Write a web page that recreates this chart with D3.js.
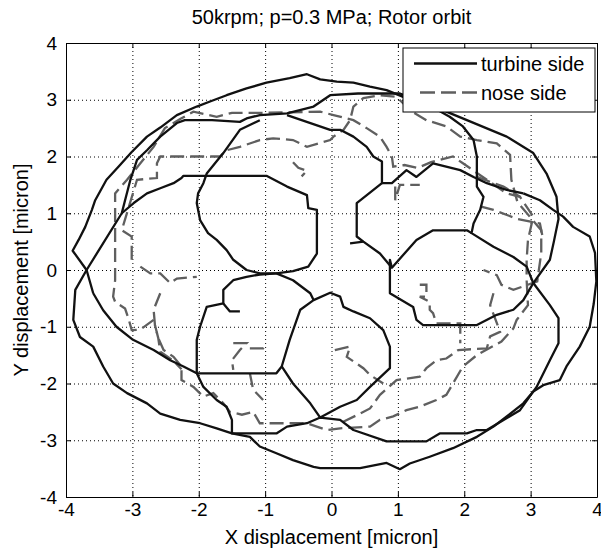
<!DOCTYPE html>
<html>
<head>
<meta charset="utf-8">
<script src="https://cdn.jsdelivr.net/npm/d3@7"></script>
<style>
  body { margin: 0; background: #fff; }
  text { font-family: "Liberation Sans", Arial, sans-serif; fill: #000; }
</style>
</head>
<body>
<script>
const width = 601, height = 552;
const margin = {top: 43, right: 4, bottom: 55, left: 66};

const xTicks = [-4, -3, -2, -1, 0, 1, 2, 3, 4];
const yTicks = [-4, -3, -2, -1, 0, 1, 2, 3, 4];
const seriesNames = ['turbine side', 'nose side'];

const turbineSide = [
  [[-3.59,-0.41],[-3.69,0],[-3.90,0.34],[-3.81,0.53],[-3.71,0.76],[-3.61,1.06],[-3.56,1.23],[-3.39,1.59],[-3.21,1.82],[-3.01,2.08],[-2.78,2.35],[-2.58,2.51],[-2.33,2.73],[-2.03,2.88],[-1.83,2.97],[-1.58,3.08],[-1.28,3.20],[-0.98,3.30],[-0.63,3.38],[-0.37,3.45],[-0.17,3.36],[0.08,3.32],[0.33,3.30],[0.58,3.23],[0.83,3.17],[1.08,3.05],[1.40,2.92],[1.73,2.79],[2.04,2.64],[2.64,2.35],[3.04,2.06],[3.24,1.70],[3.39,1.29],[3.42,0.90],[3.35,0.50],[3.29,0.18],[3.04,-0.23],[3.29,-0.62],[3.42,-0.85],[3.42,-1.29],[3.29,-1.59],[3.09,-2.06],[2.84,-2.47],[2.34,-2.82],[2.19,-2.82],[2.04,-2.88],[1.63,-2.88],[1.43,-3.02],[0.83,-3.02],[0.33,-2.82],[0.13,-2.64],[-0.17,-2.60],[-0.37,-2.70],[-0.67,-2.76],[-0.83,-2.88],[-1.50,-2.88],[-1.50,-2.64],[-1.58,-2.41],[-1.73,-2.29],[-1.93,-2.06],[-2.03,-1.82],[-2.23,-1.70],[-2.43,-1.59],[-2.68,-1.41],[-2.99,-1.23],[-3.24,-1.00],[-3.44,-0.71],[-3.59,-0.41]],
  [[2.89,1.35],[3.14,1.23],[3.34,1.06],[3.49,0.94],[3.64,0.76],[3.89,0.59],[3.97,0.30],[3.99,-0.20],[3.95,-0.60],[3.89,-1.00],[3.74,-1.35],[3.54,-1.70],[3.44,-1.94],[3.19,-2.03],[3.04,-2.14],[2.89,-2.35],[2.64,-2.58],[2.44,-2.76],[2.19,-2.94],[1.83,-3.14],[1.48,-3.29],[1.18,-3.41],[1.03,-3.51],[0.83,-3.40],[0.43,-3.49],[-0.17,-3.49],[-0.27,-3.47],[-0.58,-3.35],[-0.83,-3.23],[-1.08,-3.11],[-1.23,-2.94],[-1.50,-2.88],[-1.73,-2.79],[-1.98,-2.70],[-2.28,-2.64],[-2.58,-2.53],[-2.78,-2.35],[-3.08,-2.17],[-3.29,-2.00],[-3.44,-1.70],[-3.59,-1.35],[-3.79,-1.18],[-3.89,-0.88],[-3.86,-0.35],[-3.69,0],[-3.16,1.00],[-3.11,1.23],[-3.03,1.59],[-2.93,1.94],[-2.78,2.11],[-2.58,2.35],[-2.33,2.59],[-2.21,2.64],[-1.80,2.64],[-1.38,2.61],[-1.28,2.67],[-1.08,2.73],[-0.67,2.76],[-0.27,2.88],[-0.02,3.08],[0.40,3.11],[1.03,3.11],[1.40,2.95],[1.78,2.70],[1.98,2.53],[2.14,2.29],[2.19,2.00],[2.19,1.47],[2.29,1.29],[2.24,1.06],[2.14,0.82],[2.11,0.65],[2.44,0.41],[2.74,0.23],[2.94,0.06],[3.04,-0.23],[2.89,-0.53],[2.74,-0.70],[2.49,-0.79],[2.19,-0.97],[1.38,-0.97],[1.28,-0.88],[1.23,-0.65],[0.88,-0.41],[0.88,0.18],[0.91,0.04]],
  [[-3.16,1.00],[-2.98,1.18],[-2.78,1.35],[-2.58,1.44],[-2.38,1.53],[-2.26,1.62],[-2.23,1.66],[-1.88,1.66],[-0.98,1.66],[-0.67,1.47],[-0.37,1.32],[-0.35,1.09],[-0.22,1.06],[-0.22,0.29],[-0.35,0.06],[-0.58,-0.02],[-0.83,-0.06],[-1.08,-0.08],[-1.28,-0.12],[-1.48,-0.18],[-1.63,-0.35],[-1.63,-0.59],[-1.88,-0.65],[-1.98,-1.00],[-2.03,-1.23],[-2.03,-1.82],[-0.83,-1.82],[-0.75,-1.70],[-0.63,-1.23],[-0.47,-0.70],[-0.27,-0.53],[-0.02,-0.40],[0.13,-0.47],[0.18,-0.65],[0.33,-0.73],[0.58,-0.85],[0.78,-1.06],[0.88,-1.35],[0.88,-1.73],[0.58,-2.06],[0.38,-2.29],[0.13,-2.41],[-0.17,-2.60],[-0.32,-2.35],[-0.58,-2.00],[-0.75,-1.70]],
  [[-1.08,2.64],[-1.38,2.47],[-1.63,2.06],[-1.88,1.70],[-1.93,1.53],[-2.01,1.35],[-2.03,1.18],[-1.98,0.88],[-1.86,0.65],[-1.73,0.53],[-1.58,0.35],[-1.48,0.18],[-1.28,0.00],[-1.08,-0.06],[-0.83,-0.06],[-0.58,-0.18],[-0.32,-0.41],[-0.27,-0.53]],
  [[-1.63,-0.59],[-1.53,-0.73],[-1.38,-0.73]],
  [[-0.67,2.73],[-0.02,2.47],[0.13,2.47],[0.33,2.35],[0.53,2.17],[0.63,2.00],[0.76,1.91],[0.76,1.53],[0.38,1.18],[0.38,0.59],[0.48,0.50],[0.73,0.29],[0.91,0.04],[1.28,0.53],[1.53,0.70],[2.04,0.70],[2.11,0.65]],
  [[0.48,0.50],[0.28,0.47]],
  [[0.76,1.53],[0.91,1.53],[1.13,1.76],[1.28,1.64],[1.53,1.88],[1.94,1.76],[2.14,1.64],[2.34,1.53],[2.64,1.41],[2.89,1.35]]
];

// nose side orbit, same units
const noseSide = [
  [[-2.68,-0.88],[-2.88,-1.05],[-3.01,-1.06],[-3.06,-0.85],[-3.11,-0.68],[-3.26,-0.56],[-3.29,-0.47],[-3.26,-0.18],[-3.26,0.29],[-3.26,1.35],[-3.08,1.59],[-2.88,1.88],[-2.68,2.17],[-2.51,2.50],[-2.28,2.66],[-2.08,2.79],[-1.73,2.70],[-1.50,2.77],[-1.03,2.77],[-0.17,2.79],[0.03,2.73],[0.33,2.64],[0.53,2.50],[0.73,2.35],[0.83,2.17],[0.91,2.00],[0.93,1.82],[1.10,1.85],[1.30,1.80],[1.50,1.90],[1.83,2.00],[1.98,1.88],[2.34,1.59],[2.64,1.35],[2.84,1.29],[3.04,0.94],[2.96,0.53],[2.94,0.18],[2.94,-0.18],[2.96,-0.62],[2.79,-0.88],[2.74,-1.03],[2.56,-1.26],[2.19,-1.50],[1.98,-1.70],[1.73,-2.20],[1.58,-2.29],[1.33,-2.41],[1.13,-2.47],[0.93,-2.58],[0.73,-2.64],[0.58,-2.76],[0.13,-2.79],[-0.07,-2.82],[-0.37,-2.70],[-0.73,-2.70],[-1.08,-2.70],[-1.18,-2.50],[-1.35,-2.55],[-1.53,-2.50],[-1.63,-2.35],[-1.78,-2.17],[-1.93,-2.23],[-2.08,-2.06],[-2.26,-1.94],[-2.26,-1.70],[-2.38,-1.53],[-2.53,-1.41],[-2.61,-1.20],[-2.66,-0.97]],
  [[-3.01,0.18],[-3.01,0.59],[-3.16,0.70],[-2.93,1.59],[-2.63,1.62],[-2.63,1.88],[-2.58,2.00],[-1.68,2.00],[-1.58,2.11],[-1.38,2.17],[-1.08,2.29],[-0.88,2.32],[-0.58,2.29],[-0.37,2.17],[-0.02,2.29],[0.03,2.35],[0.18,2.47],[0.28,2.64],[0.33,2.88],[0.48,3.03],[0.73,3.08],[0.98,3.05],[1.20,2.80],[1.43,2.64],[1.73,2.53],[1.94,2.35],[2.19,2.29],[2.49,2.23],[2.69,2.03],[2.71,1.59],[2.80,1.20],[3.16,0.70],[3.16,0.30],[3.10,-0.20],[2.74,-0.35],[2.56,-0.26],[2.49,-0.09],[2.29,0.00]],
  [[2.44,-0.41],[2.39,-0.62],[2.54,-1.09],[2.39,-1.17],[2.34,-1.38],[1.91,-1.41],[1.73,-1.56],[1.58,-1.59],[1.43,-1.73],[1.33,-1.88],[0.98,-1.94],[0.73,-2.20],[0.58,-2.44],[0.43,-2.53],[0.13,-2.70]],
  [[-0.58,1.90],[-0.50,1.80],[-0.37,1.75],[-0.45,1.65]],
  [[1.33,-0.26],[1.43,-0.26],[1.43,-0.47],[1.33,-0.47],[1.48,-0.56],[1.48,-0.70],[1.53,-0.76],[1.58,-0.94],[1.94,-0.94],[1.94,-1.29]],
  [[-2.88,0.06],[-2.73,-0.06],[-2.58,-0.06],[-2.43,-0.23],[-2.33,-0.15],[-2.03,-0.12]],
  [[-1.48,-1.29],[-1.28,-1.29],[-1.38,-1.41],[-1.50,-1.59],[-1.48,-1.76]],
  [[-1.23,-1.38],[-1.03,-1.38],[-0.98,-1.29]],
  [[-1.23,-1.82],[-1.18,-2.11],[-1.03,-2.29]],
  [[0.05,-1.41],[0.28,-1.35],[0.23,-1.53],[0.48,-1.73],[0.58,-1.85],[0.78,-2.00]],
  [[0.96,1.47],[0.96,1.23],[1.03,1.50],[1.33,1.50]],
  [[-2.58,-0.41],[-2.68,-0.70],[-2.66,-0.97],[-2.61,-1.20],[-2.58,-1.44],[-2.38,-1.60],[-2.26,-1.75]],
  [[2.19,1.64],[2.59,1.47],[2.84,1.29]],
  [[2.24,1.12],[2.44,1.06],[2.80,0.90],[3.14,0.82],[3.19,0.53]]
];

const x = d3.scaleLinear().domain([-4, 4]).range([margin.left, width - margin.right]);
const y = d3.scaleLinear().domain([-4, 4]).range([height - margin.bottom, margin.top]);

const svg = d3.select('body').append('svg')
    .attr('width', width)
    .attr('height', height);

// dotted grid
svg.append('g').selectAll('line.gx')
    .data(xTicks.slice(1, -1))
  .enter().append('line')
    .attr('x1', d => x(d) + 0.5).attr('x2', d => x(d) + 0.5)
    .attr('y1', y(4)).attr('y2', y(-4))
    .attr('stroke', '#000').attr('stroke-width', 1)
    .attr('stroke-dasharray', '1,3');
svg.append('g').selectAll('line.gy')
    .data(yTicks.slice(1, -1))
  .enter().append('line')
    .attr('y1', d => y(d) + 0.5).attr('y2', d => y(d) + 0.5)
    .attr('x1', x(-4)).attr('x2', x(4))
    .attr('stroke', '#000').attr('stroke-width', 1)
    .attr('stroke-dasharray', '1,3');

svg.append('clipPath').attr('id', 'plot')
  .append('rect')
    .attr('x', x(-4)).attr('y', y(4))
    .attr('width', x(4) - x(-4)).attr('height', y(-4) - y(4));

let line = d3.line().x(d => x(d[0])).y(d => y(d[1]));

let plot = svg.append('g').attr('clip-path', 'url(#plot)');

plot.selectAll('path.nose')
    .data(noseSide)
  .enter().append('path')
    .attr('class', 'nose')
    .attr('d', line)
    .attr('fill', 'none')
    .attr('stroke', '#5f5f5f')
    .attr('stroke-width', 2.3)
    .attr('stroke-dasharray', '14,6');

plot.selectAll('path.turbine')
    .data(turbineSide)
  .enter().append('path')
    .attr('class', 'turbine')
    .attr('d', line)
    .attr('fill', 'none')
    .attr('stroke', '#111')
    .attr('stroke-width', 2.3)
    .attr('stroke-linejoin', 'round');

// axes, ticks point inwards
const fmt = d => String(d);
function styleAxis(g) {
    g.attr('font-size', 19).attr('font-family', '"Liberation Sans", Arial, sans-serif');
    g.select('.domain').attr('stroke', '#000');
}
svg.append('g')
    .attr('transform', `translate(0,${y(-4)})`)
    .call(d3.axisBottom(x).tickValues(xTicks).tickSize(-5).tickSizeOuter(0).tickPadding(6).tickFormat(fmt))
    .call(styleAxis);
svg.append('g')
    .attr('transform', `translate(${x(-4)},0)`)
    .call(d3.axisLeft(y).tickValues(yTicks).tickSize(-5).tickSizeOuter(0).tickPadding(9).tickFormat(fmt))
    .call(styleAxis);
svg.append('g')
    .attr('transform', `translate(0,${y(4)})`)
    .call(d3.axisTop(x).tickValues(xTicks).tickSize(-5).tickSizeOuter(0).tickFormat(''))
    .call(styleAxis);
svg.append('g')
    .attr('transform', `translate(${x(4)},0)`)
    .call(d3.axisRight(y).tickValues(yTicks).tickSize(-5).tickSizeOuter(0).tickFormat(''))
    .call(styleAxis);

// titles
svg.append('text')
    .attr('x', (x(-4) + x(4)) / 2).attr('y', 24)
    .attr('text-anchor', 'middle').attr('font-size', 20)
    .text('50krpm; p=0.3 MPa; Rotor orbit');
svg.append('text')
    .attr('x', (x(-4) + x(4)) / 2).attr('y', 544)
    .attr('text-anchor', 'middle').attr('font-size', 20)
    .text('X displacement [micron]');
svg.append('text')
    .attr('transform', `translate(28,${(y(4) + y(-4)) / 2}) rotate(-90)`)
    .attr('text-anchor', 'middle').attr('font-size', 20)
    .text('Y displacement [micron]');

// legend
let legend = svg.append('g').attr('transform', 'translate(403,48)');
legend.append('rect')
    .attr('width', 192).attr('height', 64)
    .attr('fill', '#fff').attr('stroke', '#000').attr('stroke-width', 1);
legend.selectAll('line.key')
    .data(seriesNames)
  .enter().append('line')
    .attr('x1', (d, i) => i ? 17 : 11).attr('x2', 74)
    .attr('y1', (d, i) => 15.5 + i * 29).attr('y2', (d, i) => 15.5 + i * 29)
    .attr('stroke', (d, i) => i ? '#5f5f5f' : '#111')
    .attr('stroke-width', 2.3)
    .attr('stroke-dasharray', (d, i) => i ? '15,6' : null);
legend.selectAll('text')
    .data(seriesNames)
  .enter().append('text')
    .attr('x', 78).attr('y', (d, i) => 23 + i * 29)
    .attr('font-size', 20)
    .text(d => d);
</script>
</body>
</html>
